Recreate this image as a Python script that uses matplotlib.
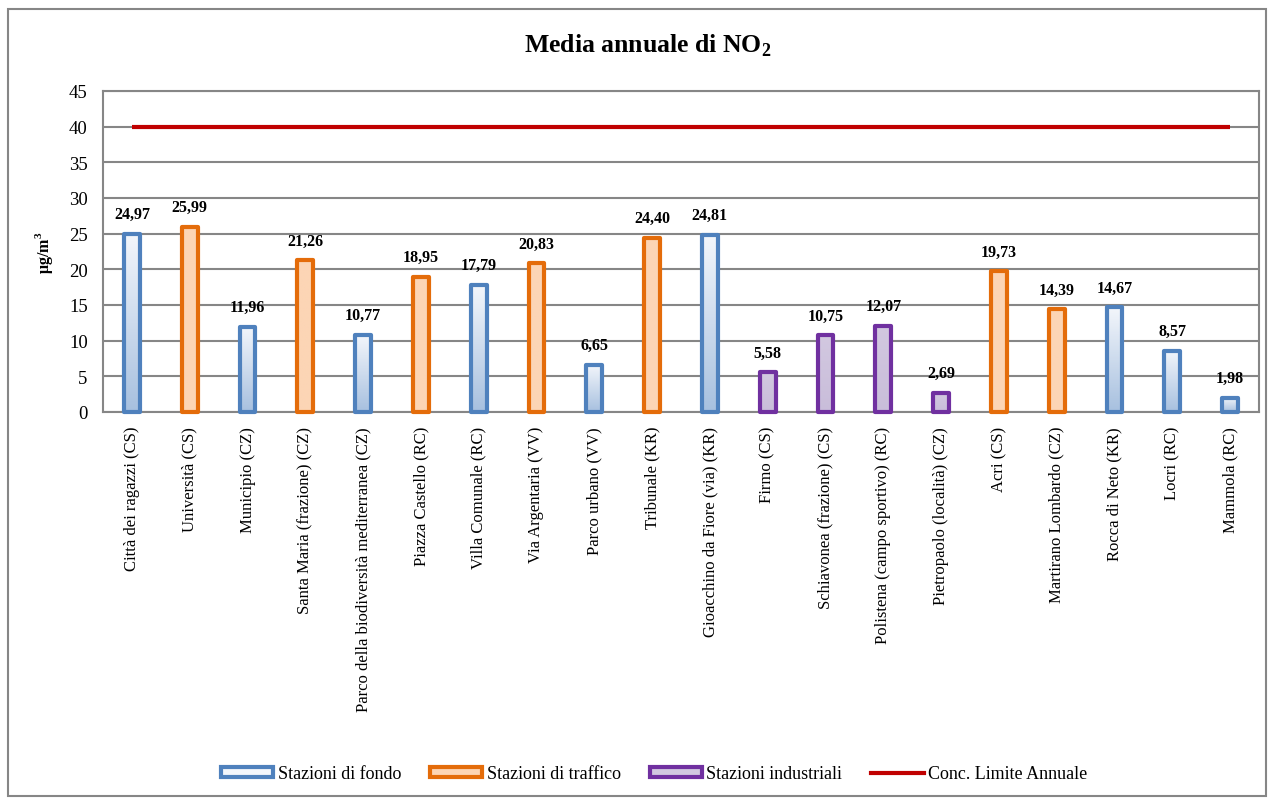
import numpy as np
import matplotlib
matplotlib.use("Agg")
import matplotlib.pyplot as plt
from matplotlib.patches import Patch, Rectangle
from matplotlib.lines import Line2D
from matplotlib.colors import LinearSegmentedColormap

plt.rcParams['font.family'] = ['Liberation Serif', 'DejaVu Serif']
plt.rcParams['mathtext.fontset'] = 'custom'
plt.rcParams['mathtext.rm'] = 'Liberation Serif'
plt.rcParams['mathtext.bf'] = 'Liberation Serif:bold'

stations = ["Città dei ragazzi (CS)", "Università (CS)", "Municipio (CZ)",
            "Santa Maria (frazione) (CZ)", "Parco della biodiversità mediterranea (CZ)",
            "Piazza Castello (RC)", "Villa Comunale (RC)", "Via Argentaria (VV)",
            "Parco urbano (VV)", "Tribunale (KR)", "Gioacchino da Fiore (via) (KR)",
            "Firmo (CS)", "Schiavonea (frazione) (CS)", "Polistena (campo sportivo) (RC)",
            "Pietropaolo (località) (CZ)", "Acri (CS)", "Martirano Lombardo (CZ)",
            "Rocca di Neto (KR)", "Locri (RC)", "Mammola (RC)"]
values = [24.97, 25.99, 11.96, 21.26, 10.77, 18.95, 17.79, 20.83, 6.65, 24.40,
          24.81, 5.58, 10.75, 12.07, 2.69, 19.73, 14.39, 14.67, 8.57, 1.98]
types = ["fondo", "traffico", "fondo", "traffico", "fondo", "traffico", "fondo", "traffico",
         "fondo", "traffico", "fondo", "industriale", "industriale", "industriale",
         "industriale", "traffico", "traffico", "fondo", "fondo", "fondo"]
limit_value = 40
yticks = list(range(0, 50, 5))
legend_labels = ["Stazioni di fondo", "Stazioni di traffico", "Stazioni industriali",
                 "Conc. Limite Annuale"]

styles = {
    "fondo": dict(edge="#4F81BD", top="#F3F6FB", bottom="#A7C0DF"),
    "traffico": dict(edge="#E46C0A", top="#FCD5B5", bottom="#FCD5B5"),
    "industriale": dict(edge="#7030A0", top="#D2C8E0", bottom="#C9BDDA"),
}

fig = plt.figure(figsize=(12.74, 8.03), dpi=100)
ax = fig.add_axes([103/1274, 1-413/803, (1259-103)/1274, (413-92)/803])

x = np.arange(len(values))
width = 0.27
ax.set_xlim(-0.5, len(values) - 0.5)
ax.set_ylim(0, 45)

for xi, v, t in zip(x, values, types):
    s = styles[t]
    cmap = LinearSegmentedColormap.from_list("g", [s["bottom"], s["top"]])
    grad = np.linspace(0, 1, 100).reshape(-1, 1)
    ax.imshow(grad, extent=(xi - width/2, xi + width/2, 0, v), origin="lower",
              cmap=cmap, aspect="auto", zorder=2)
    ax.add_patch(Rectangle((xi - width/2, 0), width, v, facecolor="none",
                           edgecolor=s["edge"], linewidth=3, zorder=3,
                           joinstyle="round", clip_on=False))
    ax.annotate(f"{v:.2f}".replace(".", ","), (xi, v), xytext=(0, 8.5),
                textcoords="offset points", ha="center", va="bottom",
                fontsize=11.5, fontweight="bold", zorder=5)

ax.set_xlim(-0.5, len(values) - 0.5)
ax.set_ylim(0, 45)

ax.plot(x, [limit_value] * len(x), color="#C00000", linewidth=3, zorder=4,
        solid_capstyle="butt")

ax.set_yticks(yticks)
ax.set_yticklabels([str(t) for t in yticks], fontsize=13.5)
ax.set_xticks(x)
ax.set_xticklabels(stations, rotation=90, fontsize=12)
ax.tick_params(axis="y", length=0, pad=11)
ax.tick_params(axis="x", length=0, pad=10)
ax.grid(axis="y", color="#868686", linewidth=1.5, zorder=0)
ax.set_axisbelow(True)
for sp in ax.spines.values():
    sp.set_color("#868686")
    sp.set_linewidth(1.5)

ax.set_ylabel(r"μg/m$^\mathbf{3}$", fontsize=11.5, fontweight="bold", labelpad=10)

fig.text(648/1274, 1-46/803, r"Media annuale di NO$_\mathbf{2}$", ha="center",
         va="center", fontsize=18.5, fontweight="bold")

handles = [
    Patch(facecolor=styles["fondo"]["top"], edgecolor=styles["fondo"]["edge"], linewidth=3),
    Patch(facecolor=styles["traffico"]["top"], edgecolor=styles["traffico"]["edge"], linewidth=3),
    Patch(facecolor=styles["industriale"]["top"], edgecolor=styles["industriale"]["edge"], linewidth=3),
    Line2D([0], [0], color="#C00000", linewidth=3),
]
fig.legend(handles, legend_labels, loc="center", bbox_to_anchor=(654/1274, 1-775/803),
           ncol=4, frameon=False, fontsize=13, handlelength=2.9, handleheight=0.45,
           handletextpad=0.25, columnspacing=1.6, borderpad=0)

fig.add_artist(Rectangle((8/1274, 1-797/803), (1266-8)/1274, (797-10)/803,
                         transform=fig.transFigure, facecolor="none",
                         edgecolor="#868686", linewidth=1.5))

fig.savefig("out.png", dpi=100)
